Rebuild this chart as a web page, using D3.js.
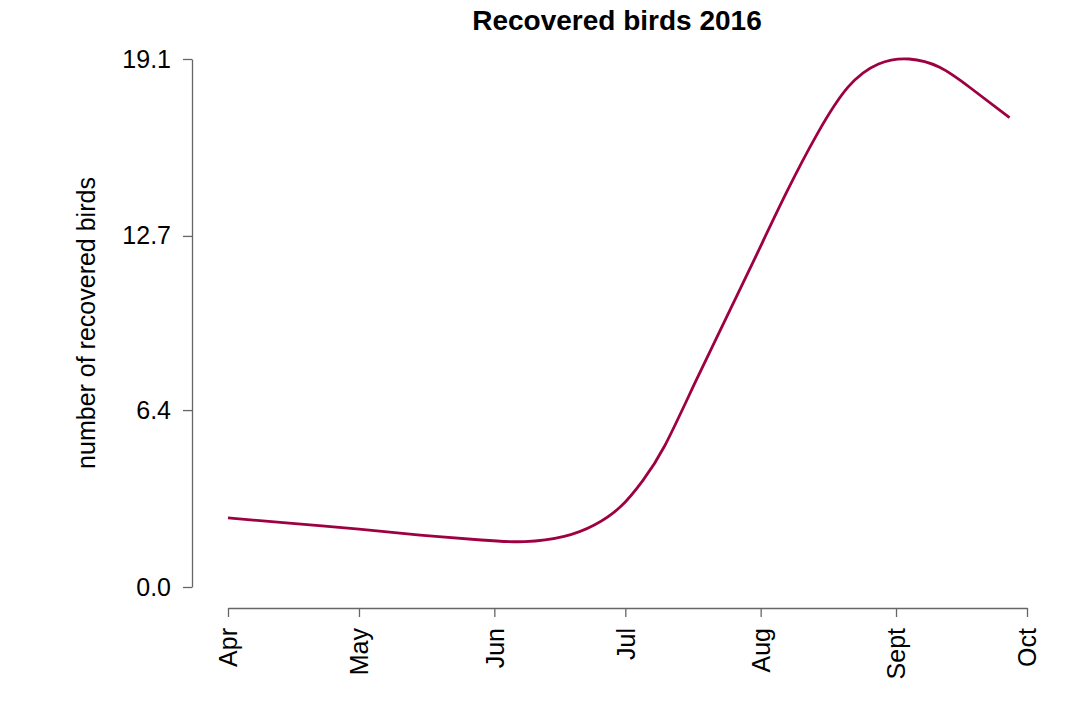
<!DOCTYPE html>
<html>
<head>
<meta charset="utf-8">
<script src="https://cdn.jsdelivr.net/npm/d3@7"></script>
<style>
  body { margin: 0; background: white; }
  text { font-family: "Liberation Sans", Arial, sans-serif; }
</style>
</head>
<body>
<svg id="chart"></svg>
<script>
// recovered birds
var dates = [
    '2016-04-01', '2016-04-15', '2016-05-01', '2016-05-15', '2016-05-29',
    '2016-06-08', '2016-06-17', '2016-06-24', '2016-06-30', '2016-07-05',
    '2016-07-10', '2016-07-17', '2016-07-24', '2016-07-31', '2016-08-07',
    '2016-08-14', '2016-08-21', '2016-08-28', '2016-09-04', '2016-09-11',
    '2016-09-18', '2016-09-27'
];
var birds = [
    2.50, 2.31, 2.09, 1.88, 1.70,
    1.64, 1.83, 2.25, 2.92, 3.85,
    5.10, 7.40, 9.70, 12.00, 14.30,
    16.40, 18.08, 18.92, 19.10, 18.80,
    18.06, 16.98
];
var yTicks = [0, 6.4, 12.7, 19.1];
var monthTicks = ['2016-04-01', '2016-05-01', '2016-06-01', '2016-07-01', '2016-08-01', '2016-09-01', '2016-10-01'];
var monthLabels = ['Apr', 'May', 'Jun', 'Jul', 'Aug', 'Sept', 'Oct'];

function main() {
    const width = 1080;
    const height = 705;
    const fontSize = 25;
    const axisColor = '#666';
    const parse = d3.utcParse('%Y-%m-%d');

    const data = dates.map((d, i) => ({ date: parse(d), value: birds[i] }));

    const svg = d3.select('#chart')
        .attr('width', width)
        .attr('height', height);

    const x = d3.scaleUtc()
        .domain([parse(monthTicks[0]), parse(monthTicks[monthTicks.length - 1])])
        .range([228, 1027]);

    const y = d3.scaleLinear()
        .domain([0, 19.1])
        .range([587, 59]);

    // y axis
    const yAxis = svg.append('g')
        .attr('transform', 'translate(192,0)')
        .call(d3.axisLeft(y).tickValues(yTicks).tickFormat(d3.format('.1f')).tickSize(9).tickPadding(12).tickSizeOuter(0));
    yAxis.select('.domain').attr('stroke', axisColor).attr('stroke-width', 1.3);
    yAxis.selectAll('.tick line').attr('stroke', axisColor).attr('stroke-width', 1.3);
    yAxis.selectAll('.tick text')
        .attr('fill', 'black')
        .style('font-size', fontSize + 'px');

    // x axis
    const xAxis = svg.append('g')
        .attr('transform', 'translate(0,608)')
        .call(d3.axisBottom(x)
            .tickValues(monthTicks.map(parse))
            .tickFormat((d, i) => monthLabels[i])
            .tickSize(9)
            .tickSizeOuter(0));
    xAxis.select('.domain').attr('stroke', axisColor).attr('stroke-width', 1.3);
    xAxis.selectAll('.tick line').attr('stroke', axisColor).attr('stroke-width', 1.3);
    xAxis.selectAll('.tick text')
        .attr('fill', 'black')
        .style('font-size', fontSize + 'px')
        .attr('text-anchor', 'end')
        .attr('dy', '0.35em')
        .attr('transform', 'translate(0,20) rotate(-90)')
        .attr('x', 0)
        .attr('y', 0);

    // the curve
    svg.append('path')
        .datum(data)
        .attr('fill', 'none')
        .attr('stroke', '#9e0142')
        .attr('stroke-width', 2.8)
        .attr('d', d3.line()
            .x(d => x(d.date))
            .y(d => y(d.value))
            .curve(d3.curveNatural));

    // title and label
    svg.append('text')
        .attr('x', 617)
        .attr('y', 30)
        .attr('text-anchor', 'middle')
        .style('font-size', '28px')
        .style('font-weight', 'bold')
        .text('Recovered birds 2016');

    svg.append('text')
        .attr('transform', 'translate(95,323) rotate(-90)')
        .attr('text-anchor', 'middle')
        .style('font-size', fontSize + 'px')
        .text('number of recovered birds');
}
main();
</script>
</body>
</html>
